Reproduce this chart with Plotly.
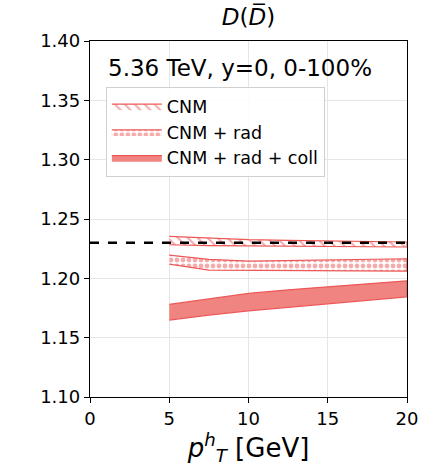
import plotly.graph_objects as go

# ---- data ----
pt = [5, 7.5, 10, 12.5, 15, 17.5, 20]

cnm_hi = [1.2354, 1.2340, 1.2326, 1.2320, 1.2317, 1.2310, 1.2306]
cnm_lo = [1.2283, 1.2275, 1.2270, 1.2270, 1.2270, 1.2266, 1.2264]

rad_hi = [1.2195, 1.2160, 1.2145, 1.2150, 1.2157, 1.2160, 1.2165]
rad_lo = [1.2120, 1.2070, 1.2068, 1.2065, 1.2064, 1.2062, 1.2060]

coll_hi = [1.1780, 1.1828, 1.1873, 1.1903, 1.1929, 1.1955, 1.1979]
coll_lo = [1.1648, 1.1690, 1.1726, 1.1758, 1.1788, 1.1816, 1.1844]

ref_level = 1.23
x_ticks = [0, 5, 10, 15, 20]
y_ticks = [1.10, 1.15, 1.20, 1.25, 1.30, 1.35, 1.40]

FONT = "DejaVu Sans"
EDGE = "rgb(236,88,88)"
FILL = "rgb(240,132,128)"


def band(lo, hi):
    return pt + pt[::-1], hi + lo[::-1]


fig = go.Figure()

bx, by = band(cnm_lo, cnm_hi)
fig.add_trace(go.Scatter(
    x=bx, y=by, fill="toself", mode="lines", name="CNM",
    line=dict(color=EDGE, width=1.2),
    fillcolor="white",
    fillpattern=dict(shape="\\", fgcolor=EDGE, bgcolor="white", size=7, solidity=0.3),
))

bx, by = band(rad_lo, rad_hi)
fig.add_trace(go.Scatter(
    x=bx, y=by, fill="toself", mode="lines", name="CNM + rad",
    line=dict(color=EDGE, width=1.2),
    fillcolor="white",
    fillpattern=dict(shape=".", fgcolor=EDGE, bgcolor="white", size=6, solidity=0.5),
))

bx, by = band(coll_lo, coll_hi)
fig.add_trace(go.Scatter(
    x=bx, y=by, fill="toself", mode="lines", name="CNM + rad + coll",
    line=dict(color=EDGE, width=1.2),
    fillcolor=FILL,
))

fig.add_trace(go.Scatter(
    x=[x_ticks[0], x_ticks[-1]], y=[ref_level, ref_level], mode="lines",
    line=dict(color="black", width=2.5, dash="dash"), showlegend=False,
))

fig.add_annotation(
    x=0.05, y=0.925, xref="paper", yref="paper", xanchor="left", yanchor="middle",
    text="5.36 TeV, y=0, 0-100%", showarrow=False,
    font=dict(family=FONT, size=23, color="black"),
)

axis_common = dict(
    showline=True, linecolor="black", linewidth=1.3, mirror=True,
    ticks="outside", ticklen=5, tickwidth=1.3, tickcolor="black",
    showgrid=True, gridcolor="#e6e6e6", gridwidth=1,
    zeroline=False, automargin=False,
    tickfont=dict(family=FONT, size=18, color="black"),
)

fig.update_layout(
    width=423, height=476,
    margin=dict(l=90, r=16, t=41, b=79, autoexpand=False),
    paper_bgcolor="white", plot_bgcolor="white",
    title=dict(
        text="<i>D</i>(<i>D\u0305</i>)",
        x=0.5 * (90 + 407) / 423, xanchor="center", y=0.965, yanchor="middle",
        font=dict(family=FONT, size=23, color="black"),
    ),
    xaxis=dict(
        range=[0, 20], tickvals=x_ticks, ticktext=[str(v) for v in x_ticks],
        title=dict(text="<i>p</i><sup><i>h</i></sup><sub><i>T</i></sub> [GeV]",
                   font=dict(family=FONT, size=26, color="black"), standoff=6),
        **axis_common,
    ),
    yaxis=dict(
        range=[1.10, 1.40], tickvals=y_ticks, ticktext=[f"{v:.2f}" for v in y_ticks],
        **axis_common,
    ),
    legend=dict(
        x=0.05, y=0.87, xanchor="left", yanchor="top",
        bgcolor="rgba(255,255,255,0.85)", bordercolor="#d0d0d0", borderwidth=1,
        font=dict(family=FONT, size=17.5, color="black"),
        tracegroupgap=0, itemwidth=50,
    ),
    showlegend=True,
)

fig.write_html("out.html")
